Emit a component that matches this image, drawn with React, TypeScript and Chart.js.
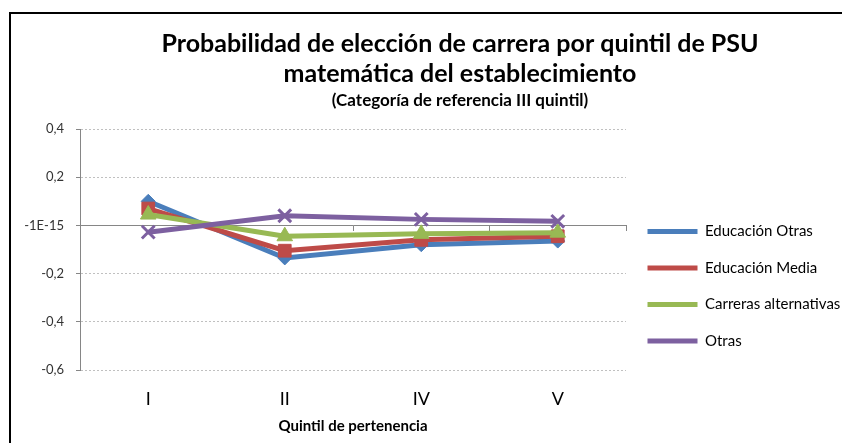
import { useEffect, useRef } from 'react';
import { Chart, registerables } from 'chart.js';

Chart.register(...registerables);

const titleLines = ['Probabilidad de elección de carrera por quintil de PSU', 'matemática del establecimiento'];
const subtitleText = '(Categoría de referencia III quintil)';
const xAxisTitle = 'Quintil de pertenencia';

const categories = ['I', 'II', 'IV', 'V'];
const seriesNames = ['Educación Otras', 'Educación Media', 'Carreras alternativas', 'Otras'];

const educacionOtras = [0.1, -0.135, -0.08, -0.065];
const educacionMedia = [0.07, -0.105, -0.06, -0.045];
const carrerasAlternativas = [0.045, -0.045, -0.035, -0.03];
const otras = [-0.028, 0.04, 0.025, 0.017];

const yMin = -0.6;
const yMax = 0.4;
const yStep = 0.2;
const yTickLabels = ['-0,6', '-0,4', '-0,2', '-1E-15', '0,2', '0,4'];

const FONT = 'Lato, "Open Sans", sans-serif';
// The original title is centred on a chart object wider than the visible crop.
const TITLE_SHIFT = 39;

const titleShiftPlugin = {
  id: 'titleShift',
  afterLayout(chart: any) {
    for (const box of chart.boxes) {
      if (box.position === 'top' && box.fullSize && !('axis' in box)) {
        box.left += TITLE_SHIFT;
        box.right += TITLE_SHIFT;
      }
    }
  },
};

export default function App() {
  const canvasRef = useRef<HTMLCanvasElement | null>(null);

  useEffect(() => {
    const canvas = canvasRef.current;
    if (!canvas) return;

    const seriesValues = [educacionOtras, educacionMedia, carrerasAlternativas, otras];
    const colors = ['#4A7EBB', '#BE4B48', '#98B954', '#7D60A0'];
    const styles = ['rectRot', 'rect', 'triangle', 'crossRot'];
    const radii = [7, 9, 9, 9];
    const pointBorders = [1, 1, 1, 3];

    const chart = new Chart(canvas, {
      type: 'line',
      data: {
        labels: categories,
        datasets: seriesNames.map((name, i) => ({
          label: name,
          data: seriesValues[i],
          borderColor: colors[i],
          backgroundColor: colors[i],
          borderWidth: 5,
          pointStyle: styles[i],
          pointRadius: radii[i],
          pointBorderWidth: pointBorders[i],
          pointBackgroundColor: colors[i],
          pointBorderColor: colors[i],
          tension: 0,
          fill: false,
          order: seriesNames.length - i,
        })),
      },
      plugins: [titleShiftPlugin],
      options: {
        responsive: false,
        animation: false,
        layout: { padding: 0 },
        plugins: {
          title: {
            display: true,
            text: titleLines,
            color: '#000',
            font: { family: FONT, size: 25, weight: 'bold', lineHeight: '30px' },
            padding: { top: 29, bottom: 0 },
          },
          subtitle: {
            display: true,
            text: subtitleText,
            color: '#000',
            font: { family: FONT, size: 17, weight: 'bold', lineHeight: '20px' },
            padding: { top: 2, bottom: 18 },
          },
          legend: {
            position: 'right',
            align: 'end',
            fullSize: false,
            maxWidth: 216,
            labels: {
              usePointStyle: true,
              pointStyle: 'line',
              pointStyleWidth: 50,
              color: '#000',
              font: { family: FONT, size: 15 },
              padding: 21.5,
              generateLabels: (c: any) =>
                (Chart.defaults.plugins.legend.labels.generateLabels as any)(c).map((item: any) => ({
                  ...item,
                  lineWidth: 5,
                  pointStyle: 'line',
                })),
              sort: (a: any, b: any) => a.datasetIndex - b.datasetIndex,
            },
          },
          tooltip: { enabled: false },
        },
        scales: {
          x: {
            type: 'category',
            position: 'bottom',
            offset: true,
            afterFit: (scale: any) => {
              scale.height = 73;
            },
            grid: { display: false, drawTicks: false },
            border: { display: false },
            ticks: { padding: 18, color: '#000', font: { family: FONT, size: 18 } },
            title: {
              display: true,
              text: xAxisTitle,
              color: '#000',
              font: { family: FONT, size: 15, weight: 'bold' },
              padding: { top: 10, bottom: 8 },
            },
          },
          x2: {
            type: 'category',
            position: { y: 0 },
            offset: true,
            grid: { offset: true, drawOnChartArea: false, drawTicks: true, tickLength: 5, tickColor: '#868686' },
            border: { display: true, color: '#868686', width: 1 },
            ticks: { display: false },
          },
          y: {
            type: 'linear',
            position: 'left',
            min: yMin,
            max: yMax,
            afterFit: (scale: any) => {
              scale.width = 80;
            },
            ticks: {
              stepSize: yStep,
              padding: 12,
              color: '#333',
              font: { family: FONT, size: 13 },
              callback: (value: any) => {
                const idx = Math.round((Number(value) - yMin) / yStep);
                return yTickLabels[idx] ?? '';
              },
            },
            grid: { color: '#c0c0c0', drawTicks: true, tickLength: 4, tickColor: '#868686' },
            border: { display: true, color: '#868686', width: 1, dash: [2, 2] },
          },
        },
      },
    } as any);

    return () => chart.destroy();
  }, []);

  return (
    <div style={{ position: 'fixed', left: 0, top: 0, width: 842, height: 443, overflow: 'hidden', background: '#fff' }}>
      <canvas ref={canvasRef} width={842} height={443} style={{ position: 'absolute', left: 0, top: 0 }} />
      <div
        style={{
          position: 'absolute',
          left: 9,
          top: 12,
          width: 900,
          height: 500,
          borderLeft: '2px solid #000',
          borderTop: '2px solid #000',
          pointerEvents: 'none',
        }}
      />
    </div>
  );
}
